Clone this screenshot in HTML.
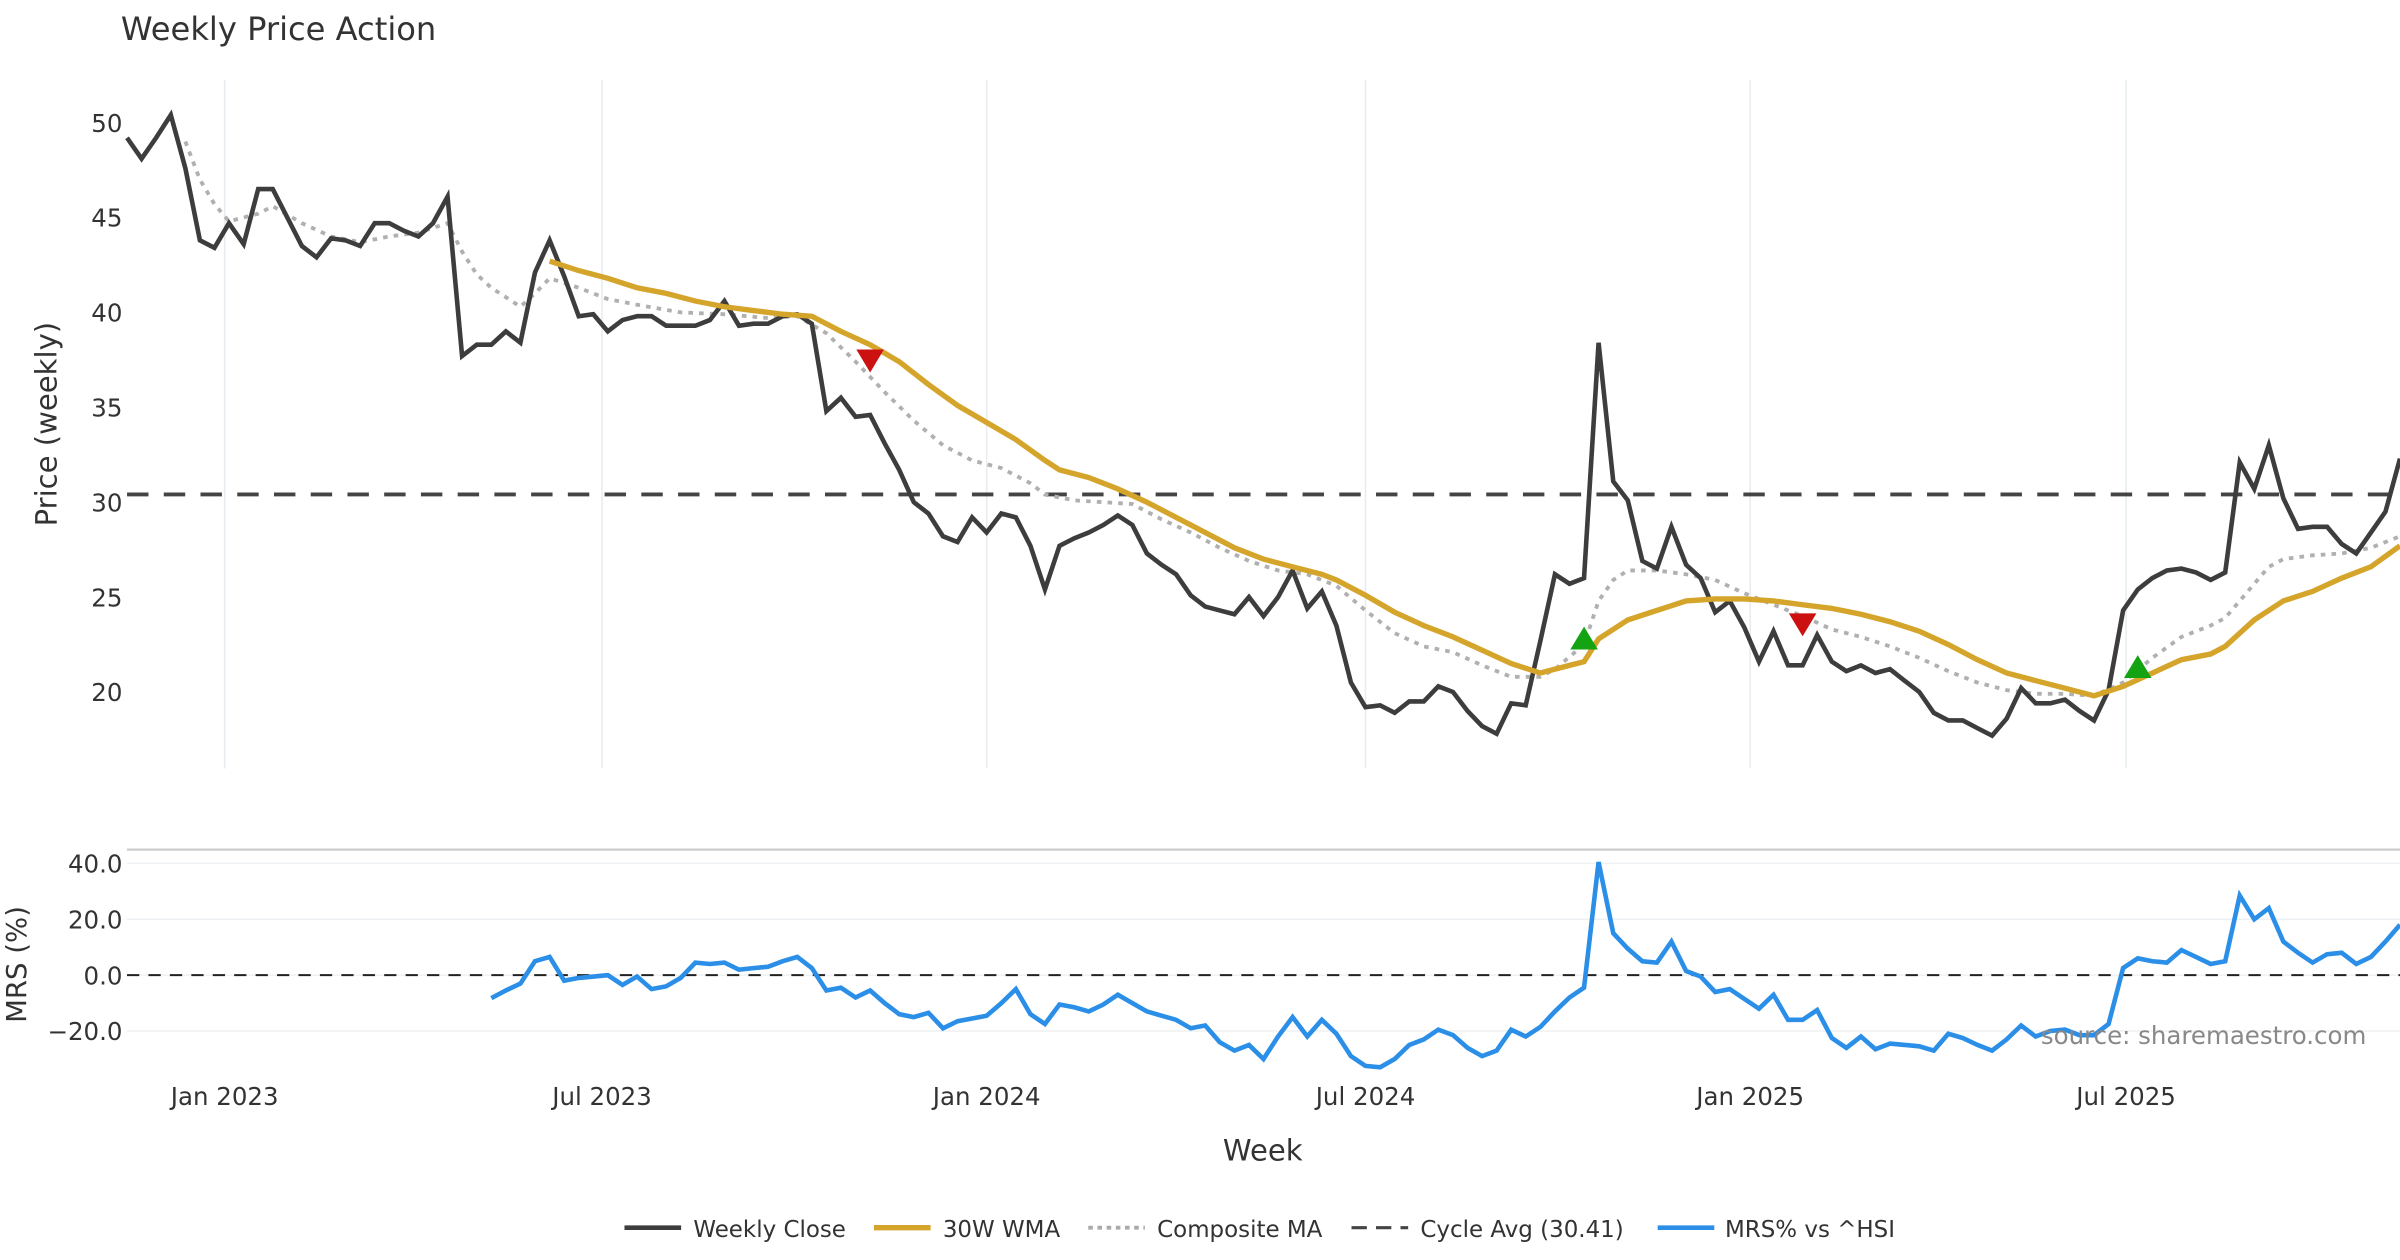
<!DOCTYPE html>
<html><head><meta charset="utf-8"><style>
html,body{margin:0;padding:0;background:#fff;}
svg{display:block;font-family:"DejaVu Sans","Liberation Sans",sans-serif;}
</style></head><body>
<svg id="chart" width="2400" height="1260" viewBox="0 0 1568 823" xmlns="http://www.w3.org/2000/svg">
<rect width="1568" height="823" fill="#fff"/>
<text x="79" y="26" font-size="21" fill="#333">Weekly Price Action</text>
<g id="grid"></g>
<g id="ticks"></g>
<g id="series"></g>
<text transform="translate(37,277) rotate(-90)" text-anchor="middle" font-size="19" fill="#333">Price (weekly)</text>
<text transform="translate(17,630) rotate(-90)" text-anchor="middle" font-size="18" fill="#333">MRS (%)</text>
<text x="825" y="758" text-anchor="middle" font-size="19" fill="#333">Week</text>
<text x="1546" y="682" text-anchor="end" font-size="16" fill="#888">source: sharemaestro.com</text>
<g font-size="15" fill="#333">
 <g><line x1="408" y1="802" x2="445" y2="802" stroke="#3d3d3d" stroke-width="3"/><text x="453" y="808">Weekly Close</text></g>
 <g><line x1="571" y1="802" x2="608" y2="802" stroke="#d4a52a" stroke-width="3.5"/><text x="616" y="808">30W WMA</text></g>
 <g><line x1="711" y1="802" x2="748" y2="802" stroke="#aaa" stroke-width="2.5" stroke-dasharray="3,3"/><text x="756" y="808">Composite MA</text></g>
 <g><line x1="883" y1="802" x2="920" y2="802" stroke="#444" stroke-width="2" stroke-dasharray="10,6"/><text x="928" y="808">Cycle Avg (30.41)</text></g>
 <g><line x1="1083" y1="802" x2="1120" y2="802" stroke="#2b8fe8" stroke-width="3"/><text x="1127" y="808">MRS% vs ^HSI</text></g>
</g>
</svg>
<script>
const closeVals=[49.2,48.1,49.2,50.4,47.6,43.8,43.4,44.7,43.6,46.5,46.5,45.0,43.5,42.9,43.9,43.8,43.5,44.7,44.7,44.3,44.0,44.7,46.1,37.7,38.3,38.3,39.0,38.4,42.1,43.8,41.9,39.8,39.9,39.0,39.6,39.8,39.8,39.3,39.3,39.3,39.6,40.6,39.3,39.4,39.4,39.8,39.9,39.4,34.8,35.5,34.5,34.6,33.1,31.7,30.0,29.4,28.2,27.9,29.2,28.4,29.4,29.2,27.7,25.4,27.7,28.1,28.4,28.8,29.3,28.8,27.3,26.7,26.2,25.1,24.5,24.3,24.1,25.0,24.0,25.0,26.4,24.4,25.3,23.5,20.5,19.2,19.3,18.9,19.5,19.5,20.3,20.0,19.0,18.2,17.8,19.4,19.3,22.7,26.2,25.7,26.0,38.4,31.1,30.1,26.9,26.5,28.7,26.7,26.0,24.2,24.8,23.4,21.6,23.2,21.4,21.4,23.0,21.6,21.1,21.4,21.0,21.2,20.6,20.0,18.9,18.5,18.5,18.1,17.7,18.6,20.2,19.4,19.4,19.6,19.0,18.5,20.1,24.3,25.4,26.0,26.4,26.5,26.3,25.9,26.3,32.1,30.7,33.0,30.2,28.6,28.7,28.7,27.8,27.3,28.4,29.5,32.3];
const wmaWeeks=[29,31,33,35,37,39,41,43,45,47,49,51,53,55,57,59,61,63,64,66,68,70,72,74,76,78,80,82,83,85,87,89,91,93,95,97,99,100,101,103,105,107,109,111,113,115,117,119,121,123,125,127,129,131,133,135,137,139,141,143,144,146,148,150,152,154,156];
const wmaVals=[42.7,42.2,41.8,41.3,41.0,40.6,40.3,40.1,39.9,39.8,39.0,38.3,37.4,36.2,35.1,34.2,33.3,32.2,31.7,31.3,30.7,30.0,29.2,28.4,27.6,27.0,26.6,26.2,25.9,25.1,24.2,23.5,22.9,22.2,21.5,21.0,21.4,21.6,22.8,23.8,24.3,24.8,24.9,24.9,24.8,24.6,24.4,24.1,23.7,23.2,22.5,21.7,21.0,20.6,20.2,19.8,20.3,21.0,21.7,22.0,22.4,23.8,24.8,25.3,26.0,26.6,27.7];
const compWeeks=[4,5,6,7,9,10,12,14,16,18,20,22,23,24,25,27,28,29,31,33,35,38,41,44,46,48,50,52,54,56,58,60,62,63,65,67,69,71,73,75,77,79,81,83,85,87,89,91,93,95,97,98,100,101,102,103,105,107,109,111,113,115,117,119,121,123,125,127,129,131,133,135,137,139,141,143,144,145,146,147,148,150,152,154,156];
const compVals=[49.0,47.0,45.7,44.8,45.2,45.6,44.7,44.0,43.7,44.0,44.2,44.7,43.2,42.0,41.3,40.3,41.0,41.8,41.3,40.7,40.4,40.0,39.9,39.7,39.8,38.9,37.4,35.8,34.3,33.0,32.2,31.8,31.0,30.4,30.1,30.0,29.9,29.1,28.4,27.6,26.9,26.4,26.2,25.6,24.3,23.1,22.4,22.1,21.4,20.8,20.8,21.2,22.5,24.8,25.9,26.4,26.4,26.2,25.9,25.2,24.6,24.0,23.3,22.9,22.4,21.8,21.1,20.5,20.1,19.9,19.9,19.8,20.5,21.8,22.9,23.5,23.9,24.8,25.7,26.6,27.0,27.2,27.3,27.6,28.2];
const mrsStart=25;
const mrsVals=[-8.2,-5.5,-3,5,6.5,-2,-1,-0.5,0,-3.5,-0.5,-5,-4,-1,4.5,4,4.5,2,2.5,3,5,6.5,2.5,-5.5,-4.5,-8,-5.5,-10,-14,-15,-13.5,-19,-16.5,-15.5,-14.5,-10,-5,-14,-17.5,-10.5,-11.5,-13,-10.5,-7,-10,-13,-14.5,-16,-19,-18,-24,-27,-25,-30,-22,-15,-22,-16,-21,-29,-32.5,-33,-30,-25,-23,-19.5,-21.5,-26,-29,-27,-19.5,-22,-18.5,-13,-8,-4.5,40.5,15,9.5,5,4.5,12,1.5,-0.5,-6,-5,-8.5,-12,-7,-16,-16,-12.5,-22.5,-26,-22,-26.5,-24.5,-25,-25.5,-27,-21,-22.5,-25,-27,-23,-18,-22,-20,-19.5,-21.5,-21.5,-17.5,2.5,6,5,4.5,9,6.5,4,5,28.5,20,24,12,8,4.5,7.5,8,4,6.5,12,18];
const cycleAvg=30.41;
const sellWeeks=[51,115];
const sellVals=[37.4,23.5];
const buyWeeks=[100,138];
const buyVals=[22.8,21.3];
const priceTicks=[20,25,30,35,40,45,50];
const mrsTicks=[-20,0,20,40];
const mrsTickLabels=["\u221220.0","0.0","20.0","40.0"];
const dateTickWeeks=[6.7,32.6,59,85,111.4,137.2];
const dateTickLabels=["Jan 2023","Jul 2023","Jan 2024","Jul 2024","Jan 2025","Jul 2025"];

const NS="http://www.w3.org/2000/svg";
const X0=83,X1=1568,nW=closeVals.length;
const xs=i=>X0+i*(X1-X0)/(nW-1);
const yp=v=>452-(v-20)*12.4;
const ym=v=>637-v*1.825;
function mk(tag,attrs,parent){const e=document.createElementNS(NS,tag);for(const k in attrs)e.setAttribute(k,attrs[k]);parent.appendChild(e);return e;}
const grid=document.getElementById('grid'),ticks=document.getElementById('ticks'),ser=document.getElementById('series');

dateTickWeeks.forEach((w,k)=>{
 const l=mk('line',{x1:xs(w),x2:xs(w),y1:52,y2:502,stroke:'#e6ecf0','stroke-width':1},grid);
 
 
 const t=mk('text',{x:xs(w),y:722,'text-anchor':'middle','font-size':16,fill:'#333'},ticks);
 t.textContent=dateTickLabels[k];
 
 
});
priceTicks.forEach(v=>{
 const t=mk('text',{x:80,y:yp(v)+6,'text-anchor':'end','font-size':16,fill:'#333'},ticks);
 t.textContent=v;
 
 
});
const border=mk('line',{x1:X0,x2:X1,y1:555,y2:555,stroke:'#ccc','stroke-width':1.5},grid);


mrsTicks.forEach((v,k)=>{
 const g=mk('line',{x1:X0,x2:X1,y1:ym(v),y2:ym(v),stroke:'#eef1f4','stroke-width':1},grid);
 
 
 const t=mk('text',{x:80,y:ym(v)+6,'text-anchor':'end','font-size':16,fill:'#333'},ticks);
 t.textContent=mrsTickLabels[k];
 
 
});
const zl=mk('line',{x1:X0,x2:X1,y1:ym(0),y2:ym(0),stroke:'#222','stroke-width':1.3,'stroke-dasharray':'8,6'},ser);


const cl=mk('line',{x1:X0,x2:X1,y1:yp(cycleAvg),y2:yp(cycleAvg),stroke:'#444','stroke-width':2.5,'stroke-dasharray':'14,10'},ser);



function pts(idx,vals,yf){return idx.map((w,k)=>xs(w).toFixed(1)+','+yf(vals[k]).toFixed(1)).join(' ');}
const comp=mk('polyline',{points:pts(compWeeks,compVals,yp),fill:'none',stroke:'#b0b0b0','stroke-width':2.5,'stroke-dasharray':'3,4'},ser);


const closeIdx=closeVals.map((v,i)=>i);
const cls=mk('polyline',{points:pts(closeIdx,closeVals,yp),fill:'none',stroke:'#3d3d3d','stroke-width':3,'stroke-linejoin':'miter'},ser);


const wma=mk('polyline',{points:pts(wmaWeeks,wmaVals,yp),fill:'none',stroke:'#d4a52a','stroke-width':3.5},ser);


const mrsIdx=mrsVals.map((v,k)=>mrsStart+k);
const mrs=mk('polyline',{points:pts(mrsIdx,mrsVals,ym),fill:'none',stroke:'#2b8fe8','stroke-width':3},ser);


sellWeeks.forEach((w,k)=>{
 const x=xs(w),y=yp(sellVals[k]);
 const p=mk('polygon',{points:`${x-9},${y-8} ${x+9},${y-8} ${x},${y+7}`,fill:'#cc1111'},ser);
 
 
});
buyWeeks.forEach((w,k)=>{
 const x=xs(w),y=yp(buyVals[k]);
 const p=mk('polygon',{points:`${x-9},${y+7} ${x+9},${y+7} ${x},${y-8}`,fill:'#13a313'},ser);
 
 
});
</script>
</body></html>
